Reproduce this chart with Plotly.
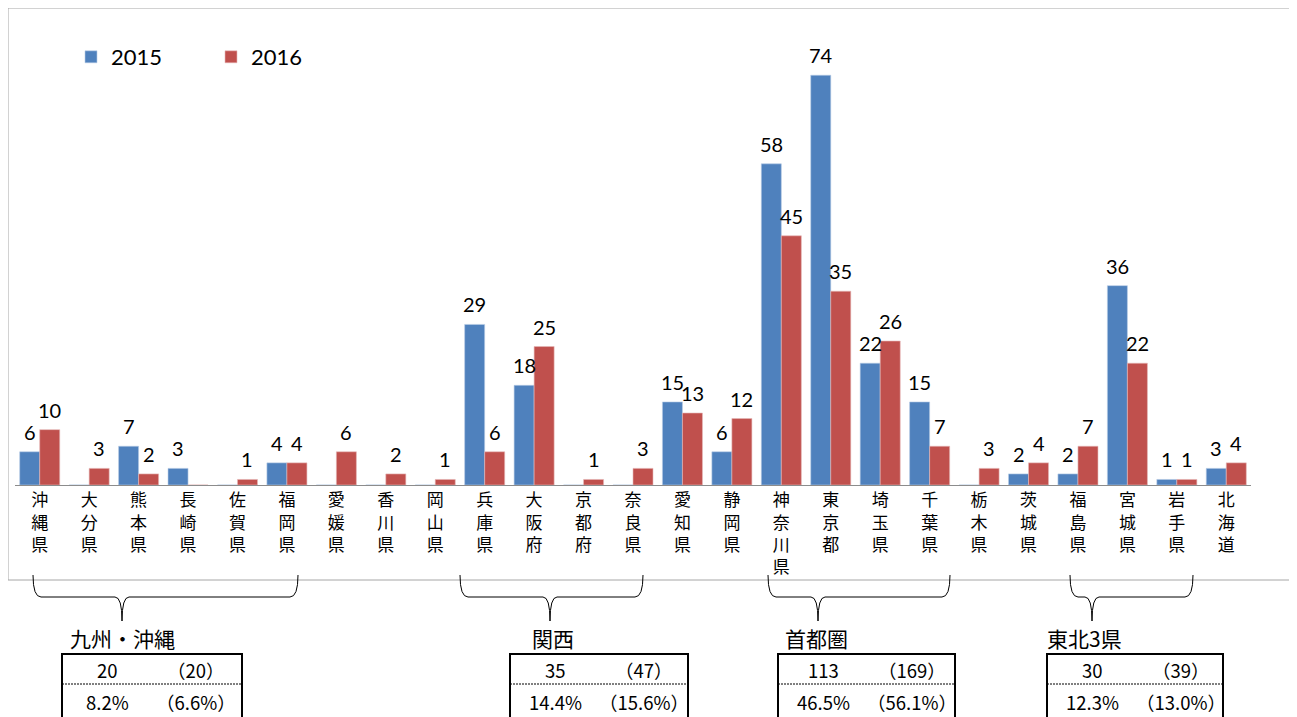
import plotly.graph_objects as go

categories = ["沖縄県", "大分県", "熊本県", "長崎県", "佐賀県", "福岡県", "愛媛県", "香川県", "岡山県",
              "兵庫県", "大阪府", "京都府", "奈良県", "愛知県", "静岡県", "神奈川県", "東京都", "埼玉県",
              "千葉県", "栃木県", "茨城県", "福島県", "宮城県", "岩手県", "北海道"]
values_2015 = [6, 0, 7, 3, 0, 4, 0, 0, 0, 29, 18, 0, 0, 15, 6, 58, 74, 22, 15, 0, 2, 2, 36, 1, 3]
values_2016 = [10, 3, 2, 0, 1, 4, 6, 2, 1, 6, 25, 1, 3, 13, 12, 45, 35, 26, 7, 3, 4, 7, 22, 1, 4]

region_names = ["九州・沖縄", "関西", "首都圏", "東北3県"]
region_count_2016 = [20, 35, 113, 30]
region_count_2015 = [20, 47, 169, 39]
region_pct_2016 = ["8.2%", "14.4%", "46.5%", "12.3%"]
region_pct_2015 = ["6.6%", "15.6%", "56.1%", "13.0%"]

OFF = 8  # page body margin
W, H = 1297 - OFF, 717 - OFF
ML, MT = 15 - OFF, 42 - OFF
PR, PB = 1251 - OFF, 485 - OFF
MR, MB = W - PR, H - PB
PW = W - ML - MR
PH = H - MT - MB


def px(x):
    return (x - OFF - ML) / PW


def py(y):
    return (PB - (y - OFF)) / PH


tick_text = ["<br>".join(list(c)) for c in categories]
label_font = dict(family="Lato, Open Sans, sans-serif", size=20, color="#000000")

fig = go.Figure()
fig.add_trace(go.Bar(
    x=categories, y=values_2015, name="2015",
    marker=dict(color="#4F81BD", line=dict(color="#B9CDE5", width=0.6)),
))
fig.add_trace(go.Bar(
    x=categories, y=values_2016, name="2016",
    marker=dict(color="#C0504D", line=dict(color="#E6B9B8", width=0.6)),
))

BARGAP = 0.19
bar_w_px = PW / len(categories) * (1 - BARGAP) / 2
annotations = []
for vals, sign in ((values_2015, -1), (values_2016, 1)):
    for c, v in zip(categories, vals):
        if v:
            annotations.append(dict(x=c, y=v, xref="x", yref="y", text=str(v), showarrow=False,
                                    xanchor="center", yanchor="middle",
                                    xshift=sign * bar_w_px / 2, yshift=20, font=label_font))

shapes = []
shapes.append(dict(type="rect", xref="paper", yref="paper",
                   x0=px(8), x1=px(1290), y0=py(580), y1=py(8),
                   line=dict(color="#A6A6A6", width=1), layer="below"))

braces = [(33, 298, 122), (460, 643, 550), (768, 950, 818), (1070, 1193, 1092)]
for left, right, mid in braces:
    yt, yh, yb = 575, 597, 621
    path = (f"M {px(left)},{py(yt)} Q {px(left)},{py(yh)} {px(left + 8)},{py(yh)} "
            f"L {px(mid - 7)},{py(yh)} Q {px(mid)},{py(yh)} {px(mid)},{py(yb)} "
            f"Q {px(mid)},{py(yh)} {px(mid + 7)},{py(yh)} "
            f"L {px(right - 8)},{py(yh)} Q {px(right)},{py(yh)} {px(right)},{py(yt)}")
    shapes.append(dict(type="path", xref="paper", yref="paper", path=path,
                       line=dict(color="#000000", width=1)))

table_lefts = [62, 510, 778, 1047]
table_rights = [242, 688, 955, 1223]
label_x = [68, 530, 783, 1045]
for i, (l, r) in enumerate(zip(table_lefts, table_rights)):
    shapes.append(dict(type="rect", xref="paper", yref="paper",
                       x0=px(l), x1=px(r), y0=py(724), y1=py(654),
                       line=dict(color="#000000", width=2)))
    shapes.append(dict(type="line", xref="paper", yref="paper",
                       x0=px(l), x1=px(r), y0=py(684), y1=py(684),
                       line=dict(color="#000000", width=1, dash="2px,1px")))
    annotations.append(dict(xref="paper", yref="paper", x=px(label_x[i]), y=py(638),
                            text=region_names[i], showarrow=False, xanchor="left", yanchor="middle",
                            font=dict(family="Noto Sans CJK JP", size=21, color="#000000")))
    cells = [
        (l + 45, 670, str(region_count_2016[i])),
        (l + 134, 670, f"（{region_count_2015[i]}）"),
        (l + 45, 702, region_pct_2016[i]),
        (l + 134, 702, f"（{region_pct_2015[i]}）"),
    ]
    for cx, cy, t in cells:
        annotations.append(dict(xref="paper", yref="paper", x=px(cx), y=py(cy), text=t,
                                showarrow=False, xanchor="center", yanchor="middle",
                                font=dict(family="Noto Sans CJK JP", size=18.5, color="#000000")))

fig.update_layout(
    width=W, height=H,
    margin=dict(l=ML, r=MR, t=MT, b=MB),
    paper_bgcolor="#FFFFFF", plot_bgcolor="#FFFFFF",
    barmode="group", bargap=BARGAP, bargroupgap=0.0,
    showlegend=True,
    legend=dict(orientation="h", x=px(71), y=py(57), xanchor="left", yanchor="middle",
                entrywidth=95, entrywidthmode="pixels",
                font=dict(family="Lato, Open Sans, sans-serif", size=22, color="#000000"),
                bgcolor="rgba(0,0,0,0)"),
    xaxis=dict(tickmode="array", tickvals=categories, ticktext=tick_text,
               tickfont=dict(family="Noto Sans CJK JP", size=17, color="#000000"),
               showline=True, linecolor="#8C8C8C", linewidth=1, ticks="",
               showgrid=False, zeroline=False, tickangle=0),
    yaxis=dict(range=[0, 80], showticklabels=False, showgrid=False, zeroline=False,
               showline=False, ticks=""),
    shapes=shapes, annotations=annotations,
)

fig.write_html("out.html")
